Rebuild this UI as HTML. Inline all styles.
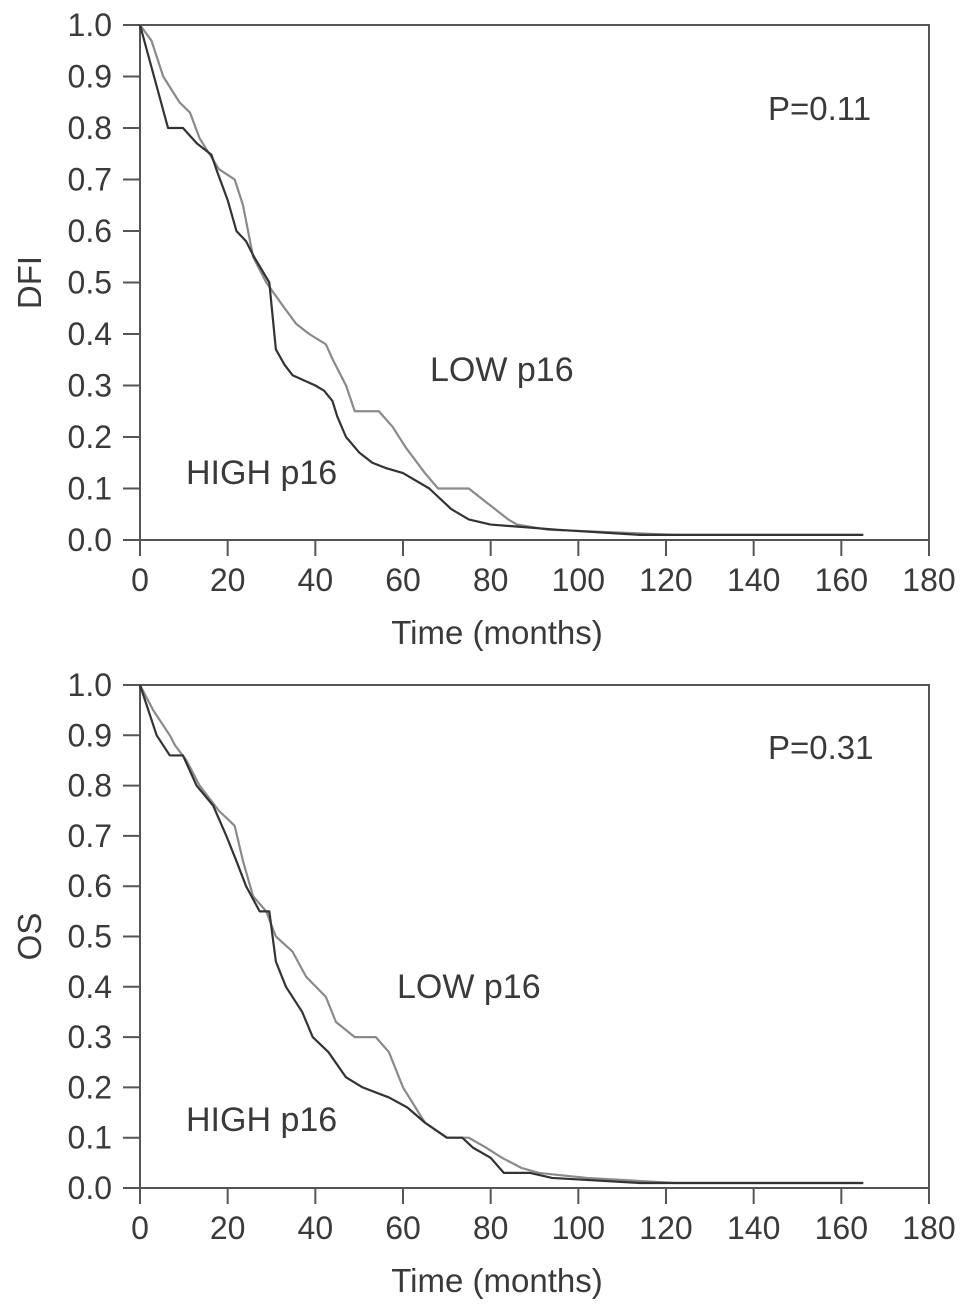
<!DOCTYPE html>
<html><head><meta charset="utf-8"><style>
body{margin:0;background:#fff}
svg text{font-family:"Liberation Sans",Arial,sans-serif;fill:#3a3a3a}
</style></head><body>
<svg id="c" width="969" height="1308" viewBox="0 0 969 1308"></svg>
<script>
const xTicks=[0,20,40,60,80,100,120,140,160,180];
const yTicks=[0,0.1,0.2,0.3,0.4,0.5,0.6,0.7,0.8,0.9,1.0];
const dfiHighT=[0,6.4,9.8,13,16.3,17.4,20,22,24.2,26,29.5,31,33,34.8,40,42,43.9,45,47,50,53,56,60,66,71,75,80,95,114,165];
const dfiHighS=[1,0.8,0.8,0.77,0.748,0.72,0.66,0.6,0.58,0.55,0.5,0.37,0.34,0.32,0.3,0.29,0.27,0.24,0.2,0.17,0.15,0.14,0.13,0.1,0.06,0.04,0.03,0.02,0.01,0.01];
const dfiLowT=[0,2.6,5.3,9,11.4,13.6,18,21.6,23.5,25.8,28.8,33,35.6,38.6,42.4,44,47,49,54.5,57.6,60.6,65,68,75,79.5,84,86,93,122,165];
const dfiLowS=[1,0.97,0.9,0.85,0.83,0.78,0.72,0.7,0.65,0.55,0.5,0.45,0.42,0.4,0.38,0.35,0.3,0.25,0.25,0.22,0.18,0.13,0.1,0.1,0.07,0.04,0.03,0.02,0.01,0.01];
const osHighT=[0,3.8,6.8,9.8,12.9,16.7,19.7,22,24.2,27.3,29.5,31,33.3,37,39.4,43,47,50.8,56.8,61,65,70,73.5,76,80,83,89,94,114,165];
const osHighS=[1,0.9,0.86,0.86,0.8,0.76,0.7,0.65,0.6,0.55,0.55,0.45,0.4,0.35,0.3,0.27,0.22,0.2,0.18,0.16,0.13,0.1,0.1,0.08,0.06,0.03,0.03,0.02,0.01,0.01];
const osLowT=[0,3,6.8,8,10.6,13.6,18,21.6,23.5,25.8,28.8,31,34.8,37.9,42.4,44.7,49,53.8,56.8,60,65,70,75,79,82.6,87,91,102,122,165];
const osLowS=[1,0.95,0.9,0.88,0.85,0.8,0.75,0.72,0.65,0.58,0.55,0.5,0.47,0.42,0.38,0.33,0.3,0.3,0.27,0.2,0.13,0.1,0.1,0.08,0.06,0.04,0.03,0.02,0.01,0.01];

const NS="http://www.w3.org/2000/svg";
const svg=document.getElementById('c');
function mk(tag,attrs,parent){const e=document.createElementNS(NS,tag);for(const k in attrs)e.setAttribute(k,attrs[k]);(parent||svg).appendChild(e);return e;}

function panel(p){
  const g=mk('g',{});
  
  
  const x0=140,x1=929,yTop=p.yTop,yBot=p.yBot;
  const X=t=>x0+(x1-x0)*t/180;
  const Y=s=>yBot-(yBot-yTop)*s;
  const frame=mk('rect',{x:x0,y:yTop,width:x1-x0,height:yBot-yTop,fill:'none',stroke:'#555','stroke-width':2},g);
  
  
  yTicks.forEach(v=>{
    mk('line',{x1:x0-17,x2:x0,y1:Y(v),y2:Y(v),stroke:'#555','stroke-width':2},g);
    const t=mk('text',{x:112,y:Y(v)+11,'text-anchor':'end','font-size':32},g);
    t.textContent=v.toFixed(1);
    
    
  });
  xTicks.forEach(v=>{
    mk('line',{x1:X(v),x2:X(v),y1:yBot,y2:yBot+16,stroke:'#555','stroke-width':2},g);
    const t=mk('text',{x:X(v),y:yBot+51,'text-anchor':'middle','font-size':32},g);
    t.textContent=v;
    
    
  });
  const xt=mk('text',{x:497,y:yBot+104,'text-anchor':'middle','font-size':33},g);
  xt.textContent='Time (months)';
  
  
  const cy=(yTop+yBot)/2;
  const yt=mk('text',{x:41,y:cy,'text-anchor':'middle','font-size':33,transform:`rotate(-90 41 ${cy})`},g);
  yt.textContent=p.ylabel;
  
  
  function curve(T,S,color,name){
    let d=`M${X(T[0])},${Y(S[0])}`;
    for(let i=1;i<T.length;i++){d+=`L${X(T[i])},${Y(S[i])}`;}
    const path=mk('path',{d:d,fill:'none',stroke:color,'stroke-width':2.2,'stroke-linejoin':'round'},g);
    
    
  }
  curve(p.lowT,p.lowS,'#8a8a8a','low-p16-curve');
  curve(p.highT,p.highS,'#333','high-p16-curve');
  const pv=mk('text',{x:768,y:p.pY,'font-size':33},g);
  pv.textContent=p.pText;
  
  
  const lo=mk('text',{x:p.lowX,y:p.lowY,'font-size':34},g);
  lo.textContent='LOW p16';
  
  
  const hi=mk('text',{x:186,y:p.highY,'font-size':34},g);
  hi.textContent='HIGH p16';
  
  
}
panel({name:'dfi-panel',yTop:25,yBot:540,ylabel:'DFI',highT:dfiHighT,highS:dfiHighS,lowT:dfiLowT,lowS:dfiLowS,pText:'P=0.11',pY:120,lowX:430,lowY:381,highY:484});
panel({name:'os-panel',yTop:685,yBot:1188,ylabel:'OS',highT:osHighT,highS:osHighS,lowT:osLowT,lowS:osLowS,pText:'P=0.31',pY:759,lowX:397,lowY:998,highY:1131});
</script>
</body></html>
